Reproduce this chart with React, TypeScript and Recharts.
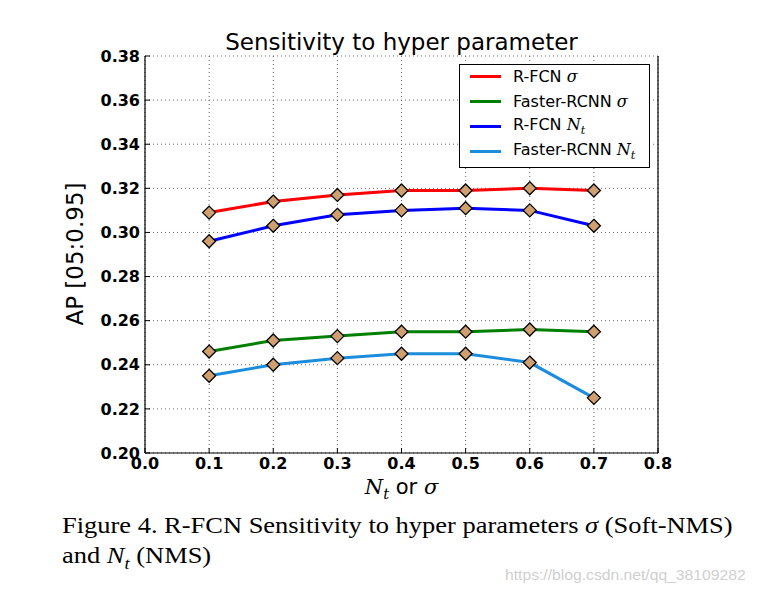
import { LineChart, Line, XAxis, YAxis, CartesianGrid } from "recharts";

const xValues = [0.1, 0.2, 0.3, 0.4, 0.5, 0.6, 0.7];
const rfcnSigma = [0.309, 0.314, 0.317, 0.319, 0.319, 0.32, 0.319];
const fasterSigma = [0.246, 0.251, 0.253, 0.255, 0.255, 0.256, 0.255];
const rfcnNt = [0.296, 0.303, 0.308, 0.31, 0.311, 0.31, 0.303];
const fasterNt = [0.235, 0.24, 0.243, 0.245, 0.245, 0.241, 0.225];

const xTicks = [0, 0.1, 0.2, 0.3, 0.4, 0.5, 0.6, 0.7, 0.8];
const yTicks = [0.2, 0.22, 0.24, 0.26, 0.28, 0.3, 0.32, 0.34, 0.36, 0.38];

const data = xValues.map((x, i) => ({
  x,
  rfcnSigma: rfcnSigma[i],
  fasterSigma: fasterSigma[i],
  rfcnNt: rfcnNt[i],
  fasterNt: fasterNt[i],
}));

const series = [
  { key: "rfcnSigma", color: "#ff0000", name: "R-FCN", sym: "sigma" },
  { key: "fasterSigma", color: "#008000", name: "Faster-RCNN", sym: "sigma" },
  { key: "rfcnNt", color: "#0000ff", name: "R-FCN", sym: "nt" },
  { key: "fasterNt", color: "#1c8cdc", name: "Faster-RCNN", sym: "nt" },
];

const sans = "'DejaVu Sans', sans-serif";
const serif = "'DejaVu Serif', 'Liberation Serif', serif";
const times = "'Liberation Serif', 'Times New Roman', serif";

const Diamond = (props: any) => {
  const { cx, cy, index } = props;
  const r = 6.5;
  return (
    <polygon
      key={index}
      points={`${cx},${cy - r} ${cx + r},${cy} ${cx},${cy + r} ${cx - r},${cy}`}
      fill="#cf9f6f"
      stroke="#000"
      strokeWidth={1.3}
    />
  );
};

const Sym = ({ s }: { s: string }) =>
  s === "sigma" ? (
    <span style={{ fontFamily: serif, fontStyle: "italic" }}>σ</span>
  ) : (
    <span style={{ fontFamily: serif, fontStyle: "italic" }}>
      N<sub style={{ fontSize: "0.7em" }}>t</sub>
    </span>
  );

const tickStyle = { fontFamily: sans, fontSize: 16, fontWeight: "bold", fill: "#000" };

export default function App() {
  return (
    <div style={{ position: "absolute", left: 0, top: 0, width: 757, height: 593, background: "#fff" }}>
      <LineChart width={757} height={500} data={data} margin={{ top: 56, right: 98, left: 85, bottom: 17 }}>
        <CartesianGrid stroke="#666" strokeDasharray="1 3" strokeWidth={1} />
        <XAxis
          dataKey="x"
          type="number"
          domain={[0, 0.8]}
          ticks={xTicks}
          tickFormatter={(v: number) => v.toFixed(1)}
          tick={tickStyle}
          axisLine={{ stroke: "#000", strokeWidth: 1.2 }}
          tickLine={{ stroke: "#000" }}
          tickSize={-5}
          tickMargin={10}
          height={30}
          interval={0}
        />
        <XAxis
          xAxisId="top"
          orientation="top"
          dataKey="x"
          type="number"
          domain={[0, 0.8]}
          ticks={xTicks}
          tickFormatter={() => ""}
          axisLine={{ stroke: "#000", strokeWidth: 1.2 }}
          tickLine={{ stroke: "#000" }}
          tickSize={-5}
          height={0}
          interval={0}
        />
        <YAxis
          type="number"
          domain={[0.2, 0.38]}
          ticks={yTicks}
          tickFormatter={(v: number) => v.toFixed(2)}
          tick={tickStyle}
          axisLine={{ stroke: "#000", strokeWidth: 1.2 }}
          tickLine={{ stroke: "#000" }}
          tickSize={-5}
          tickMargin={10}
          width={60}
          interval={0}
        />
        <YAxis
          yAxisId="right"
          orientation="right"
          type="number"
          domain={[0.2, 0.38]}
          ticks={yTicks}
          tickFormatter={() => ""}
          axisLine={{ stroke: "#000", strokeWidth: 1.2 }}
          tickLine={{ stroke: "#000" }}
          tickSize={-5}
          width={1}
          interval={0}
        />
        {series.map((s) => (
          <Line
            key={s.key}
            dataKey={s.key}
            stroke={s.color}
            strokeWidth={3}
            type="linear"
            dot={Diamond}
            isAnimationActive={false}
          />
        ))}
      </LineChart>

      <div style={{ position: "absolute", left: 145, width: 513, top: 29, textAlign: "center", fontFamily: sans, fontSize: 23 }}>
        Sensitivity to hyper parameter
      </div>

      <div
        style={{
          position: "absolute",
          left: 75,
          top: 254,
          transform: "translate(-50%, -50%) rotate(-90deg)",
          fontFamily: sans,
          fontSize: 23,
          whiteSpace: "nowrap",
        }}
      >
        AP [05:0.95]
      </div>

      <div style={{ position: "absolute", left: 145, width: 513, top: 475, textAlign: "center", fontFamily: sans, fontSize: 21 }}>
        <Sym s="nt" /> or <Sym s="sigma" />
      </div>

      <div
        style={{
          position: "absolute",
          left: 459,
          top: 64,
          width: 191,
          height: 104,
          border: "1.3px solid #000",
          background: "#fff",
          boxSizing: "border-box",
        }}
      >
        {series.map((s, i) => (
          <div key={s.key} style={{ position: "absolute", left: 10, top: 0 + i * 25, height: 22, display: "flex", alignItems: "center", whiteSpace: "nowrap" }}>
            <div style={{ width: 31, height: 3, background: s.color, marginRight: 12 }} />
            <span style={{ fontFamily: sans, fontSize: 16 }}>
              {s.name} <Sym s={s.sym} />
            </span>
          </div>
        ))}
      </div>

      <div
        style={{
          position: "absolute",
          left: 62,
          top: 511,
          width: 574,
          fontFamily: times,
          fontSize: 23,
          lineHeight: "30px",
          transform: "scaleX(1.15)",
          transformOrigin: "left top",
          whiteSpace: "nowrap",
        }}
      >
        <div style={{ textAlign: "justify", textAlignLast: "justify" }}>
          Figure 4. R-FCN Sensitivity to hyper parameters <i>σ</i> (Soft-NMS)
        </div>
        <div>
          and <i>N<sub style={{ fontSize: "0.7em", lineHeight: 0 }}>t</sub></i> (NMS)
        </div>
      </div>

      <div style={{ position: "absolute", left: 505, top: 567, fontFamily: "'Liberation Sans', sans-serif", fontSize: 14, color: "#d0d0d0", transform: "scaleX(1.12)", transformOrigin: "left top" }}>
        https://blog.csdn.net/qq_38109282
      </div>
    </div>
  );
}
